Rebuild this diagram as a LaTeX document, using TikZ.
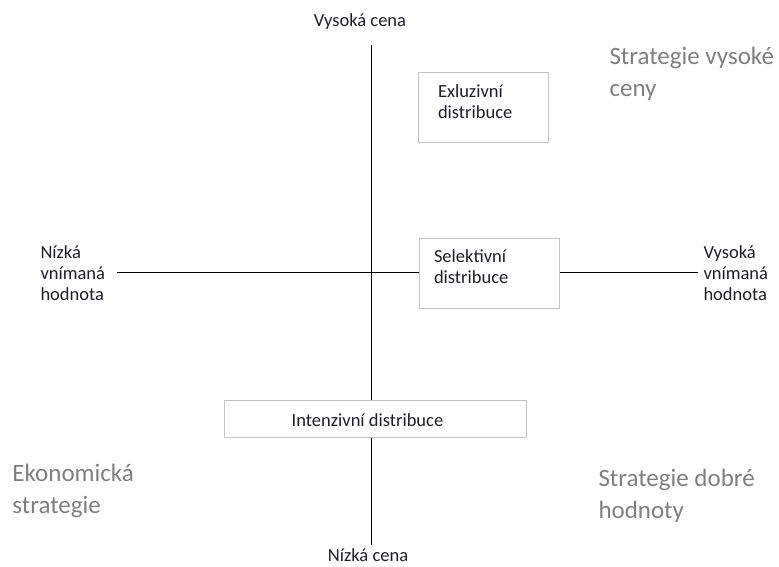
\documentclass[tikz,border=0pt]{standalone}
\usepackage{fontspec}
\setmainfont{Carlito}
\definecolor{boxgray}{HTML}{C4C4C4}
\definecolor{txtgray}{HTML}{7F7F7F}
\definecolor{txtdark}{HTML}{1E1E28}

\begin{document}
\begin{tikzpicture}[x=1pt, y=-1pt, line width=1pt,
  box/.style={draw=boxgray, fill=white, inner sep=0pt},
  small/.style={text=txtdark, font=\fontsize{18.5}{21}\selectfont, inner sep=0pt, align=left},
  big/.style={text=txtgray, font=\fontsize{25}{32}\selectfont, inner sep=0pt, align=left, anchor=west}]
  \useasboundingbox (0,0) rectangle (779,566);
  % osy
  \coordinate (T) at (371,45);
  \coordinate (D) at (371,545);
  \coordinate (L) at (117,272);
  \coordinate (R) at (698,272);
  \draw (T) -- (D);
  \draw (L) -- (R);
  % krabice
  \node[box, minimum width=130pt, minimum height=70pt] (excl) at (483,107) {};
  \node[box, minimum width=140pt, minimum height=70pt] (sel) at (489,273) {};
  \node[box, minimum width=302pt, minimum height=37pt] (int) at (375,418.5) {};
  \node[small, anchor=north west] (exclT) at ([xshift=20pt,yshift=-13pt]excl.north west) {Exluzivní\\distribuce};
  \node[small, anchor=north west] (selT) at ([xshift=15pt,yshift=-12pt]sel.north west) {Selektivní\\distribuce};
  \node[small] (intT) at (367.5,420) {Intenzivní distribuce};
  % popisky os
  \node[small] (hiP) at (360,22) {Vysoká cena};
  \node[small] (loP) at (368,555) {Nízká cena};
  \node[small, anchor=west] (loV) at (40,273) {Nízká\\vnímaná\\hodnota};
  \node[small, anchor=west] (hiV) at (703,273) {Vysoká\\vnímaná\\hodnota};
  % strategie
  \node[big] (sHi) at (609,74) {Strategie vysoké\\ceny};
  \node[big] (sEco) at (12,491) {Ekonomická\\strategie};
  \node[big] (sGood) at (598,496) {Strategie dobré\\hodnoty};
\end{tikzpicture}
\end{document}
